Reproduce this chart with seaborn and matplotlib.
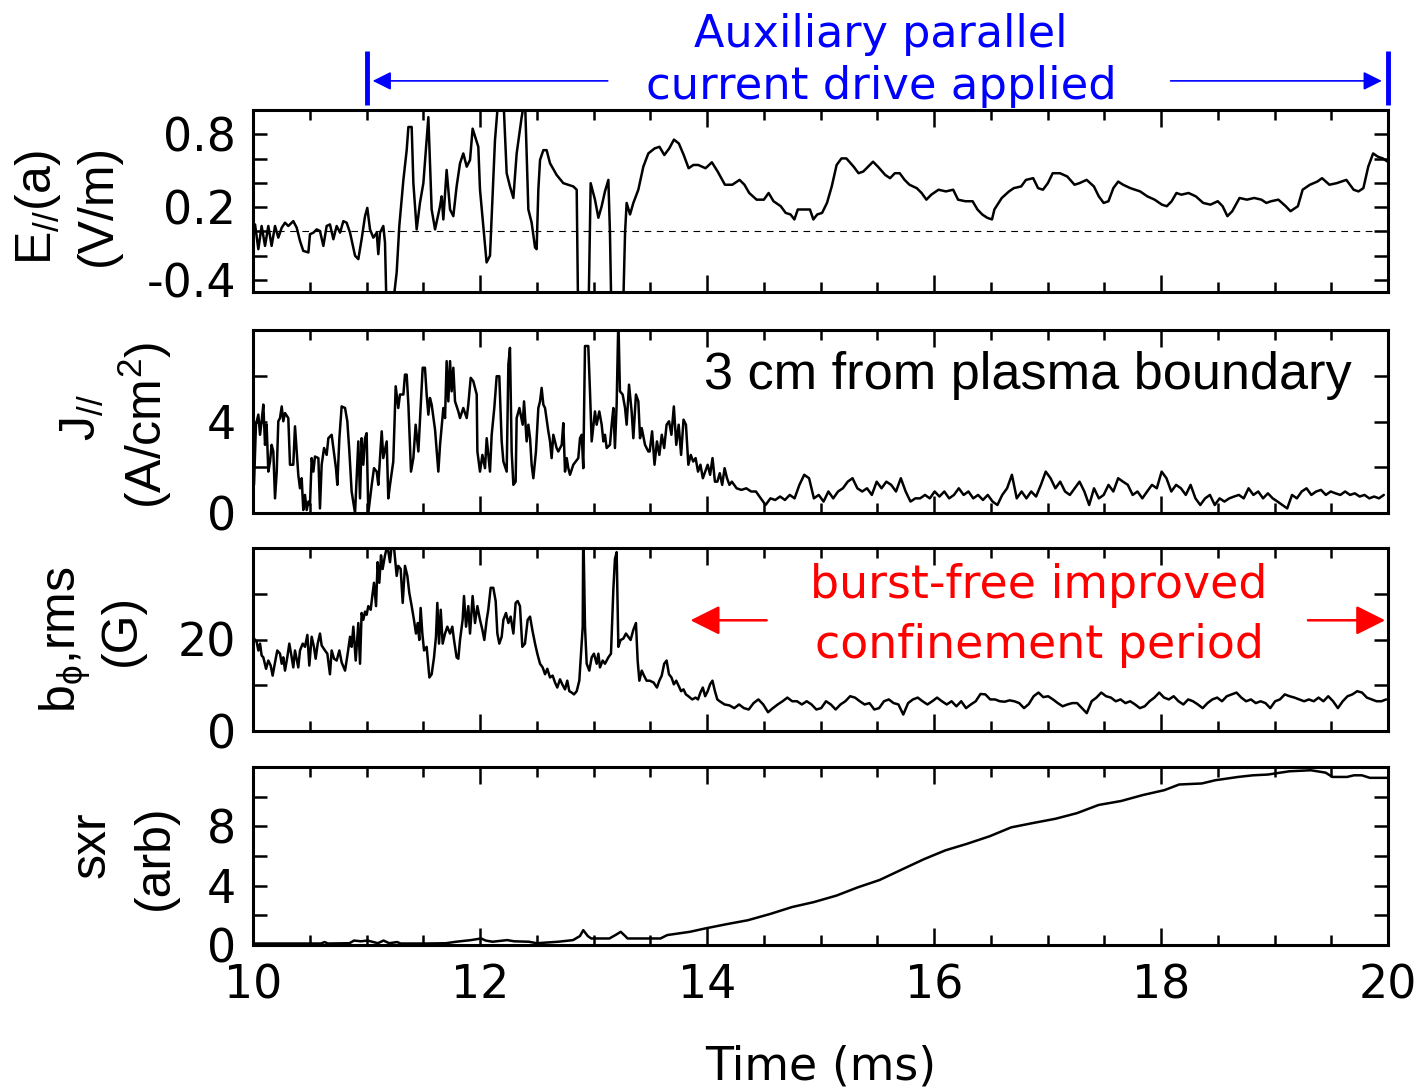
import numpy as np
import pandas as pd
import seaborn as sns
import matplotlib.pyplot as plt
from matplotlib.ticker import MultipleLocator

# ---- E_par(a) trace, V/m ----
e_time = [10.018, 10.047, 10.076, 10.106, 10.135, 10.164, 10.194, 10.223, 10.253, 10.282,
          10.311, 10.355, 10.385, 10.414, 10.443, 10.488, 10.502, 10.532, 10.561, 10.590,
          10.620, 10.649, 10.678, 10.708, 10.737, 10.767, 10.796, 10.825, 10.855, 10.899,
          10.928, 10.957, 10.987, 11.007, 11.031, 11.060, 11.090, 11.104, 11.119, 11.148,
          11.163, 11.178, 11.222, 11.266, 11.289, 11.325, 11.354, 11.369, 11.398, 11.413,
          11.442, 11.471, 11.501, 11.545, 11.574, 11.604, 11.648, 11.662, 11.677, 11.706,
          11.736, 11.765, 11.794, 11.824, 11.853, 11.883, 11.912, 11.935, 11.985, 12.000,
          12.029, 12.058, 12.088, 12.132, 12.162, 12.206, 12.235, 12.264, 12.294, 12.323,
          12.367, 12.396, 12.411, 12.426, 12.455, 12.485, 12.499, 12.514, 12.529, 12.558,
          12.587, 12.617, 12.675, 12.734, 12.822, 12.852, 12.866, 12.954, 12.975, 13.013,
          13.043, 13.072, 13.101, 13.131, 13.145, 13.160, 13.257, 13.278, 13.292, 13.322,
          13.351, 13.395, 13.439, 13.483, 13.538, 13.581, 13.624, 13.667, 13.709, 13.752,
          13.795, 13.838, 13.880, 13.923, 13.987, 14.043, 14.094, 14.158, 14.223, 14.287,
          14.330, 14.372, 14.437, 14.501, 14.543, 14.586, 14.650, 14.693, 14.736, 14.770,
          14.800, 14.864, 14.907, 14.937, 14.971, 15.014, 15.057, 15.099, 15.142, 15.185,
          15.228, 15.292, 15.335, 15.377, 15.420, 15.463, 15.506, 15.570, 15.613, 15.655,
          15.698, 15.741, 15.784, 15.848, 15.891, 15.933, 15.976, 16.040, 16.105, 16.169,
          16.212, 16.276, 16.340, 16.383, 16.425, 16.468, 16.511, 16.532, 16.597, 16.661,
          16.703, 16.768, 16.810, 16.874, 16.917, 16.960, 17.003, 17.046, 17.110, 17.174,
          17.238, 17.281, 17.345, 17.409, 17.452, 17.495, 17.537, 17.580, 17.623, 17.666,
          17.730, 17.816, 17.880, 17.944, 18.008, 18.051, 18.094, 18.136, 18.179, 18.243,
          18.307, 18.372, 18.436, 18.500, 18.543, 18.585, 18.628, 18.692, 18.757, 18.821,
          18.885, 18.928, 18.970, 19.034, 19.099, 19.141, 19.206, 19.248, 19.312, 19.377,
          19.419, 19.484, 19.548, 19.633, 19.697, 19.740, 19.783, 19.826, 19.869, 19.911,
          19.954, 19.997]
e_par = [0.057, -0.147, 0.044, -0.120, 0.044, -0.120, 0.044, -0.052, 0.030, 0.071,
         0.044, 0.084, 0.030, -0.079, -0.161, -0.174, -0.024, -0.011, 0.016, 0.003,
         -0.120, 0.044, 0.057, -0.065, 0.044, -0.011, 0.084, 0.071, -0.011, -0.201,
         -0.229, -0.065, 0.125, 0.193, 0.016, -0.052, -0.011, -0.188, -0.011, 0.044,
         -0.093, -0.700, -0.700, -0.337, 0.044, 0.424, 0.669, 0.860, 0.860, 0.397,
         0.016, 0.234, 0.397, 0.941, 0.180, 0.016, 0.207, 0.288, 0.098, 0.506,
         0.180, 0.125, 0.370, 0.561, 0.642, 0.533, 0.588, 0.846, 0.697, 0.343,
         0.044, -0.256, -0.201, 0.751, 1.100, 1.100, 0.479, 0.370, 0.275, 0.642,
         0.941, 1.100, 0.642, 0.180, 0.071, -0.133, -0.147, 0.343, 0.588, 0.669,
         0.669, 0.561, 0.465, 0.397, 0.370, 0.343, -0.800, -0.800, 0.397, 0.261,
         0.112, 0.207, 0.329, 0.424, -0.011, -0.800, -0.800, -0.011, 0.234, 0.139,
         0.234, 0.343, 0.533, 0.642, 0.683, 0.697, 0.629, 0.683, 0.756, 0.724,
         0.629, 0.520, 0.547, 0.547, 0.520, 0.569, 0.493, 0.384, 0.384, 0.424,
         0.384, 0.316, 0.261, 0.261, 0.316, 0.248, 0.207, 0.152, 0.139, 0.098,
         0.180, 0.180, 0.180, 0.098, 0.139, 0.152, 0.234, 0.370, 0.547, 0.601,
         0.601, 0.533, 0.479, 0.493, 0.533, 0.574, 0.533, 0.465, 0.438, 0.479,
         0.479, 0.424, 0.384, 0.356, 0.316, 0.261, 0.302, 0.343, 0.329, 0.343,
         0.261, 0.248, 0.248, 0.180, 0.139, 0.112, 0.098, 0.180, 0.275, 0.329,
         0.356, 0.370, 0.424, 0.438, 0.356, 0.343, 0.397, 0.479, 0.479, 0.452,
         0.384, 0.397, 0.424, 0.370, 0.288, 0.234, 0.248, 0.356, 0.410, 0.384,
         0.356, 0.329, 0.288, 0.261, 0.220, 0.207, 0.248, 0.316, 0.302, 0.316,
         0.288, 0.234, 0.220, 0.248, 0.207, 0.125, 0.166, 0.275, 0.261, 0.275,
         0.261, 0.234, 0.248, 0.261, 0.207, 0.166, 0.207, 0.343, 0.384, 0.410,
         0.438, 0.384, 0.397, 0.424, 0.343, 0.329, 0.356, 0.533, 0.642, 0.615,
         0.601, 0.574]

# ---- J_par trace, A/cm^2 ----
j_time_early = [10.009, 10.026, 10.047, 10.062, 10.076, 10.091, 10.106, 10.120, 10.135, 10.150,
                10.164, 10.179, 10.194, 10.209, 10.223, 10.238, 10.253, 10.267, 10.282, 10.311,
                10.326, 10.355, 10.370, 10.385, 10.399, 10.414, 10.429, 10.443, 10.458, 10.473,
                10.488, 10.502, 10.517, 10.532, 10.546, 10.576, 10.590, 10.605, 10.626, 10.649,
                10.664, 10.693, 10.708, 10.731, 10.743, 10.761, 10.781, 10.811, 10.831, 10.849,
                10.869, 10.899, 10.928, 10.943, 10.957, 10.972, 10.987, 11.001, 11.016, 11.046,
                11.066, 11.090, 11.104, 11.119, 11.134, 11.148, 11.178, 11.192, 11.207, 11.236,
                11.257, 11.280, 11.295, 11.325, 11.339, 11.354, 11.369, 11.392, 11.413, 11.433,
                11.457, 11.477, 11.495, 11.515, 11.530, 11.545, 11.559, 11.574, 11.604, 11.633,
                11.648, 11.677, 11.692, 11.706, 11.721, 11.736, 11.750, 11.765, 11.780, 11.809,
                11.824, 11.853, 11.883, 11.897, 11.918, 11.941, 11.971, 11.977, 12.000, 12.021,
                12.044, 12.059, 12.088, 12.103, 12.126, 12.147, 12.170, 12.191, 12.206, 12.235,
                12.250, 12.264, 12.279, 12.294, 12.314, 12.323, 12.347, 12.376, 12.388, 12.411,
                12.426, 12.441, 12.455, 12.470, 12.493, 12.514, 12.529, 12.543, 12.558, 12.573,
                12.602, 12.617, 12.631, 12.646, 12.675, 12.690, 12.720, 12.734, 12.749, 12.764,
                12.778, 12.793, 12.822, 12.866, 12.881, 12.896, 12.910, 12.925, 12.954, 12.969,
                12.984, 13.013, 13.028, 13.051, 13.072, 13.087, 13.101, 13.116, 13.145, 13.160,
                13.175, 13.189, 13.204, 13.219, 13.233, 13.257, 13.278, 13.292, 13.313, 13.336,
                13.351, 13.374, 13.395, 13.410, 13.425, 13.454, 13.483]
j_par_early = [1.23, 3.86, 4.30, 3.42, 4.01, 4.74, 2.98, 3.86, 1.81, 2.25,
               2.98, 2.69, 0.64, 1.81, 4.01, 4.15, 4.66, 4.01, 4.37, 4.15,
               2.11, 2.11, 3.79, 2.69, 1.67, 1.08, 1.52, 0.13, 0.79, 0.13,
               0.50, 0.35, 2.40, 1.81, 2.47, 2.40, 0.20, 2.11, 2.84, 2.54,
               3.27, 3.42, 2.84, 1.96, 1.23, 3.27, 4.66, 4.59, 4.01, 2.69,
               0.94, 0.00, 3.13, 0.64, 3.27, 2.11, 3.27, 3.49, 0.00, 1.23,
               1.96, 1.81, 1.23, 2.40, 3.57, 2.40, 3.13, 0.64, 1.23, 2.25,
               5.54, 4.59, 5.18, 5.18, 6.05, 6.05, 4.74, 1.81, 2.40, 3.86,
               2.69, 4.59, 6.35, 6.35, 5.18, 4.30, 5.03, 4.74, 3.64, 1.81,
               2.98, 4.59, 4.15, 6.64, 4.88, 6.64, 5.32, 6.35, 4.88, 4.44,
               4.15, 4.59, 4.15, 4.74, 5.91, 5.76, 5.18, 2.69, 1.81, 2.54,
               1.96, 3.27, 1.81, 3.42, 4.59, 5.98, 5.98, 3.13, 2.25, 1.81,
               6.49, 7.22, 2.69, 1.23, 1.37, 4.15, 4.59, 3.86, 4.88, 3.13,
               3.86, 3.27, 2.11, 1.52, 2.69, 4.59, 4.88, 5.47, 4.74, 4.59,
               3.57, 3.13, 2.40, 3.42, 2.84, 2.69, 2.98, 3.93, 1.81, 2.40,
               1.96, 1.67, 2.11, 2.40, 3.27, 3.42, 1.96, 7.30, 7.30, 5.32,
               3.13, 4.44, 3.86, 4.44, 3.86, 3.13, 3.42, 2.84, 2.98, 3.86,
               4.59, 2.84, 4.74, 8.50, 5.32, 5.18, 4.59, 3.86, 5.61, 4.44,
               3.27, 5.18, 4.88, 3.27, 3.71, 2.98, 2.69]
# decay phase, evenly sampled from 13.495 to 14.219 ms
j_par_decay = [2.69, 3.57, 2.11, 3.13, 2.54, 3.42, 2.84, 3.86, 4.01, 3.42,
               4.66, 2.98, 3.86, 2.54, 4.08, 3.86, 2.11, 2.54, 2.25, 2.40,
               1.81, 2.11, 1.52, 1.81, 2.11, 1.67, 2.40, 1.37, 1.37, 1.74,
               1.23, 1.96, 1.52, 1.23, 1.37]
# quiet phase, evenly sampled from 14.261 to 19.963 ms
j_par_quiet = [1.08, 1.01, 1.08, 0.94, 0.94, 0.64, 0.35, 0.64, 0.57, 0.72,
               0.57, 0.79, 0.64, 1.23, 1.67, 1.52, 0.64, 0.79, 0.50, 0.94,
               0.64, 0.94, 1.08, 1.37, 1.52, 1.08, 0.94, 1.08, 0.79, 1.37,
               1.08, 1.37, 1.23, 0.94, 1.52, 0.94, 0.50, 0.64, 0.64, 0.79,
               0.64, 0.94, 0.72, 0.94, 0.64, 0.79, 1.08, 0.79, 0.94, 0.64,
               0.79, 0.57, 0.79, 0.50, 0.35, 0.79, 1.08, 1.67, 0.64, 0.94,
               0.64, 0.94, 0.72, 1.23, 1.81, 1.52, 1.08, 1.37, 0.94, 0.79,
               1.08, 1.37, 0.94, 0.35, 1.08, 0.64, 0.79, 1.23, 0.94, 1.52,
               1.37, 1.23, 0.79, 0.94, 0.64, 0.94, 1.23, 1.08, 1.81, 1.52,
               0.94, 1.23, 1.08, 0.79, 1.23, 0.64, 0.35, 0.64, 0.79, 0.35,
               0.64, 0.50, 0.64, 0.72, 0.79, 0.64, 1.08, 0.79, 0.94, 0.64,
               0.86, 0.64, 0.50, 0.35, 0.20, 0.79, 0.64, 0.94, 1.08, 0.79,
               0.94, 1.01, 0.79, 0.94, 0.86, 0.79, 0.94, 0.79, 0.86, 0.72,
               0.79, 0.64, 0.72, 0.64, 0.79]

# ---- b_phi rms trace, G ----
b_time_early = [10.009, 10.032, 10.047, 10.062, 10.076, 10.091, 10.115, 10.135, 10.156, 10.173,
                10.194, 10.214, 10.238, 10.253, 10.267, 10.282, 10.302, 10.320, 10.341, 10.355,
                10.370, 10.399, 10.414, 10.438, 10.458, 10.479, 10.496, 10.517, 10.537, 10.552,
                10.570, 10.590, 10.605, 10.634, 10.655, 10.678, 10.693, 10.714, 10.737, 10.761,
                10.781, 10.811, 10.834, 10.855, 10.869, 10.884, 10.905, 10.928, 10.943, 10.957,
                10.972, 10.987, 11.001, 11.016, 11.037, 11.051, 11.066, 11.084, 11.098, 11.113,
                11.128, 11.142, 11.163, 11.184, 11.207, 11.222, 11.242, 11.266, 11.280, 11.301,
                11.319, 11.339, 11.360, 11.377, 11.398, 11.418, 11.436, 11.451, 11.465, 11.477,
                11.492, 11.507, 11.530, 11.554, 11.574, 11.595, 11.612, 11.624, 11.639, 11.654,
                11.671, 11.692, 11.712, 11.736, 11.756, 11.771, 11.794, 11.809, 11.824, 11.847,
                11.859, 11.877, 11.897, 11.912, 11.935, 11.956, 11.977, 12.000, 12.021, 12.038,
                12.059, 12.073, 12.094, 12.117, 12.138, 12.153, 12.170, 12.191, 12.206, 12.229,
                12.250, 12.270, 12.294, 12.314, 12.332, 12.352, 12.373, 12.396, 12.420, 12.441,
                12.461, 12.485, 12.505, 12.529, 12.552, 12.573, 12.593, 12.617, 12.640, 12.661,
                12.681, 12.705, 12.725, 12.749, 12.769, 12.787, 12.808, 12.828, 12.852, 12.875,
                12.890, 12.905, 12.910, 12.925, 12.940, 12.963, 12.984, 13.004, 13.028, 13.043,
                13.057, 13.081, 13.101, 13.131, 13.154, 13.175, 13.189, 13.204, 13.219, 13.239,
                13.263, 13.286, 13.307, 13.327, 13.351, 13.374, 13.389, 13.404, 13.425, 13.445,
                13.468, 13.495, 13.529, 13.559, 13.580, 13.601, 13.623, 13.644, 13.665, 13.687,
                13.708, 13.729, 13.750, 13.772, 13.793, 13.814, 13.836, 13.870, 13.899, 13.921,
                13.942, 13.963, 13.984, 14.006, 14.027, 14.048, 14.070, 14.091, 14.112]
b_rms_early = [20.2, 19.5, 17.6, 19.1, 16.5, 16.1, 13.6, 15.4, 14.3, 12.1,
               15.0, 17.6, 16.9, 14.7, 16.1, 13.2, 16.1, 19.1, 16.1, 13.9,
               17.6, 13.9, 17.6, 19.1, 18.4, 21.0, 14.3, 20.6, 18.4, 15.8,
               19.1, 21.3, 18.7, 17.6, 16.9, 12.4, 17.6, 15.8, 15.4, 17.6,
               15.0, 13.2, 16.9, 20.6, 18.4, 22.8, 15.4, 23.6, 14.7, 25.8,
               24.3, 26.1, 25.4, 27.3, 26.5, 29.5, 32.4, 27.3, 36.9, 32.4,
               38.4, 35.4, 38.4, 40.6, 36.9, 40.6, 40.2, 33.9, 36.1, 35.4,
               28.0, 36.1, 33.9, 30.2, 27.3, 24.3, 21.3, 23.6, 19.9, 26.9,
               21.3, 17.6, 18.4, 11.7, 12.4, 16.1, 20.6, 28.0, 19.1, 26.5,
               19.1, 21.3, 22.8, 21.3, 22.8, 19.9, 16.1, 15.8, 19.9, 24.3,
               29.5, 22.8, 27.3, 21.3, 29.5, 23.6, 27.3, 24.3, 22.1, 19.9,
               24.3, 26.5, 31.3, 31.3, 28.4, 21.3, 19.1, 20.6, 24.3, 25.8,
               23.6, 25.0, 21.3, 28.0, 28.4, 27.3, 18.4, 19.1, 24.3, 25.0,
               22.1, 19.1, 16.9, 14.7, 13.9, 12.4, 13.6, 11.7, 12.1, 10.6,
               9.5, 11.3, 10.2, 9.1, 11.0, 8.7, 8.4, 8.0, 8.7, 11.0,
               16.9, 22.8, 45.0, 22.8, 14.7, 13.2, 16.1, 16.9, 14.7, 16.9,
               13.9, 15.4, 14.7, 16.1, 16.9, 31.0, 37.6, 39.1, 18.4, 19.9,
               20.2, 21.3, 20.6, 19.9, 22.1, 23.6, 15.4, 11.0, 13.2, 12.1,
               11.0, 11.0, 10.6, 9.5, 11.0, 12.1, 14.7, 15.4, 12.4, 11.7,
               10.2, 11.0, 9.9, 8.7, 9.1, 8.0, 7.6, 6.9, 7.3, 6.9,
               8.4, 9.5, 7.6, 8.7, 10.2, 11.0, 8.7, 6.9, 6.5]
# quiet phase, evenly sampled from 14.155 to 19.984 ms
b_rms_quiet = [5.8, 5.6, 5.0, 5.8, 5.0, 4.7, 6.1, 6.9, 5.8, 4.1,
               5.0, 5.8, 6.5, 7.3, 6.5, 6.5, 5.8, 6.5, 5.8, 4.7,
               5.0, 6.5, 5.8, 4.7, 5.8, 6.5, 7.6, 7.3, 6.5, 5.8,
               6.1, 4.7, 5.0, 6.5, 6.9, 6.1, 5.8, 3.6, 6.1, 6.9,
               7.3, 6.5, 5.8, 6.5, 7.3, 6.5, 5.8, 6.5, 5.4, 6.5,
               5.0, 5.8, 6.5, 8.1, 8.0, 6.9, 6.9, 6.5, 6.4, 6.7,
               6.5, 6.1, 5.0, 5.9, 7.6, 8.4, 7.4, 7.6, 6.9, 6.1,
               5.4, 5.8, 6.1, 6.1, 5.0, 3.9, 6.5, 7.3, 8.4, 7.6,
               7.3, 6.5, 6.9, 6.1, 6.5, 5.8, 5.0, 5.4, 6.5, 7.3,
               8.4, 7.3, 6.9, 7.6, 6.5, 5.8, 6.9, 6.5, 5.8, 5.0,
               6.1, 6.9, 7.3, 6.5, 7.6, 8.0, 8.4, 7.3, 6.5, 6.9,
               6.1, 6.5, 6.1, 5.0, 6.5, 6.9, 8.0, 7.6, 7.3, 6.9,
               6.5, 6.9, 6.5, 7.3, 6.5, 7.6, 6.5, 5.0, 6.5, 7.6,
               8.0, 8.7, 8.4, 7.3, 6.9, 6.5, 6.5, 6.9]

# ---- soft x-ray, arb ----
sxr_time = [10.00, 10.31, 10.60, 10.63, 10.66, 10.85, 10.89, 10.95, 11.01, 11.10,
            11.15, 11.20, 11.27, 11.30, 11.53, 11.70, 11.79, 11.92, 12.01, 12.05,
            12.11, 12.24, 12.30, 12.43, 12.50, 12.69, 12.82, 12.88, 12.91, 12.95,
            12.98, 13.14, 13.20, 13.24, 13.28, 13.30, 13.59, 13.65, 13.85, 13.98,
            14.17, 14.36, 14.56, 14.75, 14.94, 15.14, 15.33, 15.52, 15.72, 15.91,
            16.10, 16.29, 16.49, 16.68, 16.87, 17.07, 17.26, 17.45, 17.65, 17.84,
            18.03, 18.16, 18.36, 18.48, 18.68, 18.81, 18.94, 19.13, 19.32, 19.45,
            19.51, 19.64, 19.70, 19.77, 19.84, 20.00]
sxr = [0.10, 0.10, 0.10, 0.20, 0.10, 0.12, 0.30, 0.25, 0.30, 0.12,
       0.30, 0.12, 0.20, 0.10, 0.10, 0.12, 0.22, 0.33, 0.44, 0.30,
       0.22, 0.33, 0.25, 0.22, 0.12, 0.22, 0.33, 0.60, 1.00, 0.60,
       0.44, 0.44, 0.70, 0.89, 0.60, 0.44, 0.44, 0.67, 0.89, 1.11,
       1.40, 1.67, 2.10, 2.56, 2.89, 3.33, 3.89, 4.38, 5.10, 5.78,
       6.38, 6.82, 7.33, 7.93, 8.22, 8.51, 8.89, 9.44, 9.71, 10.11,
       10.44, 10.82, 10.89, 11.11, 11.33, 11.44, 11.49, 11.71, 11.78, 11.62,
       11.33, 11.33, 11.44, 11.44, 11.27, 11.27]

# time windows for the annotations (ms)
drive_on, drive_off = 11.0, 20.0
quiet_start = 13.83

# ---- assemble tables ----
j_time = (j_time_early + list(np.linspace(13.495, 14.219, len(j_par_decay)))
          + list(np.linspace(14.261, 19.963, len(j_par_quiet))))
b_time = b_time_early + list(np.linspace(14.155, 19.984, len(b_rms_quiet)))
e_df = pd.DataFrame({'t': e_time, 'v': e_par})
j_df = pd.DataFrame({'t': j_time, 'v': j_par_early + j_par_decay + j_par_quiet})
b_df = pd.DataFrame({'t': b_time, 'v': b_rms_early + b_rms_quiet})
s_df = pd.DataFrame({'t': sxr_time, 'v': sxr})

sns.set_style("ticks")
plt.rcParams['font.family'] = ['DejaVu Sans']
plt.rcParams['mathtext.fontset'] = 'custom'
plt.rcParams['mathtext.rm'] = 'Liberation Sans'
plt.rcParams['mathtext.it'] = 'Liberation Sans:italic'
plt.rcParams['mathtext.default'] = 'regular'
plt.rcParams['mathtext.fallback'] = 'stixsans'
for key in ('text.color', 'axes.labelcolor', 'xtick.color', 'ytick.color', 'axes.edgecolor'):
    plt.rcParams[key] = 'black'

W, H = 1419, 1090
fig = plt.figure(figsize=(W / 100, H / 100), dpi=100)


def box(top, bottom):
    return [253 / W, 1 - bottom / H, 1135 / W, (bottom - top) / H]


panels = [
    (e_df, box(110, 292), (-0.5, 1.0), [-0.4, -0.2, 0, 0.2, 0.4, 0.6, 0.8],
     ['-0.4', '', '', '0.2', '', '', '0.8']),
    (j_df, box(330, 513), (0, 8), [0, 2, 4, 6], ['0', '', '4', '']),
    (b_df, box(548, 731), (0, 40), [0, 10, 20, 30], ['0', '', '20', '']),
    (s_df, box(767, 945), (0, 12), [0, 2, 4, 6, 8, 10], ['0', '', '4', '', '8', '']),
]

axes = []
for df, rect, ylim, yt, ylab in panels:
    ax = fig.add_axes(rect)
    sns.lineplot(data=df, x='t', y='v', ax=ax, color='black', lw=1.8,
                 estimator=None, sort=False, legend=False)
    ax.set_xlim(10, 20)
    ax.set_ylim(*ylim)
    ax.set_xticks(np.arange(10, 21, 2))
    ax.xaxis.set_minor_locator(MultipleLocator(0.5))
    ax.set_yticks(yt)
    ax.set_yticklabels(ylab)
    ax.tick_params(which='both', direction='in', top=True, right=True,
                   labelsize=33, width=1.8, pad=12)
    ax.tick_params(axis='x', which='major', length=12)
    ax.tick_params(axis='x', which='minor', length=7)
    ax.tick_params(axis='y', which='major', length=10)
    ax.set_xlabel('')
    ax.set_ylabel('')
    for sp in ax.spines.values():
        sp.set_linewidth(2.2)
    axes.append(ax)

for ax in axes[:-1]:
    ax.tick_params(axis='x', labelbottom=False)
axes[-1].tick_params(axis='x', pad=13)
axes[-1].set_xlabel('Time (ms)', fontsize=33, labelpad=26)

ax_e, ax_j, ax_b, ax_s = axes
ax_e.axhline(0, color='black', lw=0.8, ls=(0, (6, 5)))


def fx(px):
    return px / W


def fy(py):
    return 1 - py / H


# y labels (two lines each)
lab_font = dict(rotation=90, ha='center', va='center', family='Liberation Sans', fontsize=36)
fig.text(fx(38), fy(208), r'E$_{//}$(a)', **lab_font)
fig.text(fx(98), fy(205), '(V/m)', **lab_font)
fig.text(fx(82), fy(418), r'J$_{//}$', **lab_font)
fig.text(fx(145), fy(425), r'(A/cm$^2$)', **lab_font)
fig.text(fx(65), fy(640), r'b$_{\phi}$,rms', **lab_font)
fig.text(fx(122), fy(630), '(G)', **lab_font)
fig.text(fx(92), fy(845), 'sxr', **lab_font)
fig.text(fx(155), fy(857), '(arb)', **lab_font)

# auxiliary current drive window
blue = '#0000ff'
for xv in (drive_on, drive_off):
    ax_e.plot([xv, xv], [1.04, 1.49], color=blue, lw=3.5, clip_on=False,
              solid_capstyle='butt')
ax_e.annotate('', xy=(drive_on + 0.03, 1.24), xytext=(13.15, 1.24),
              arrowprops=dict(arrowstyle='-|>', color=blue, lw=1.2, mutation_scale=28),
              annotation_clip=False)
ax_e.annotate('', xy=(drive_off - 0.03, 1.24), xytext=(18.06, 1.24),
              arrowprops=dict(arrowstyle='-|>', color=blue, lw=1.2, mutation_scale=28),
              annotation_clip=False)
fig.text(fx(881), fy(47), 'Auxiliary parallel', color=blue, fontsize=32,
         ha='center', va='baseline')
fig.text(fx(881), fy(99), 'current drive applied', color=blue, fontsize=32.3,
         ha='center', va='baseline')

ax_j.text(19.68, 6.0, '3 cm from plasma boundary', family='Liberation Sans',
          fontsize=37.6, ha='right', va='center')

# burst-free period
red = '#ff0000'
ax_b.annotate('', xy=(quiet_start, 24.2), xytext=(14.55, 24.2),
              arrowprops=dict(arrowstyle='-|>', color=red, lw=1.8, mutation_scale=45),
              annotation_clip=False)
ax_b.annotate('', xy=(drive_off, 24.2), xytext=(19.27, 24.2),
              arrowprops=dict(arrowstyle='-|>', color=red, lw=1.8, mutation_scale=45),
              annotation_clip=False)
fig.text(fx(1039), fy(598), 'burst-free improved', color=red, fontsize=33,
         ha='center', va='baseline')
fig.text(fx(1039), fy(658), 'confinement period', color=red, fontsize=33,
         ha='center', va='baseline')

fig.savefig('out.png', dpi=100)
